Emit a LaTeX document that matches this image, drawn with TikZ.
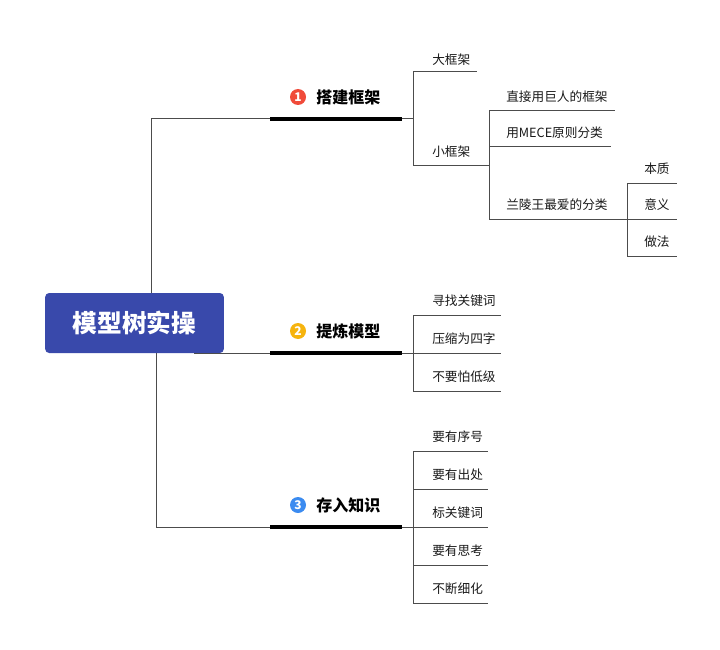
\documentclass[tikz,border=0pt]{standalone}
\usepackage{fontspec}
\setmainfont{Noto Sans CJK SC}
\definecolor{rootc}{HTML}{3949AB}
\definecolor{c1}{HTML}{F04B3A}\definecolor{c2}{HTML}{F6B40E}\definecolor{c3}{HTML}{3B8BF0}
\begin{document}
\begin{tikzpicture}[x=0.75pt,y=-0.75pt,
  ln/.style={draw=black!70,line width=0.75pt},
  thick bar/.style={draw=black,line width=3pt},
  leaf/.style={anchor=west,inner sep=0pt,font=\fontsize{9.5pt}{11pt}\selectfont,text=black!90},
  br/.style={anchor=west,inner sep=0pt,font=\fontsize{12pt}{14pt}\selectfont\bfseries},
  num/.style={circle,inner sep=0pt,minimum size=12pt,text=white,font=\fontsize{9pt}{10pt}\selectfont\bfseries}]
\useasboundingbox (0,0) rectangle (720,649);
% root
\node[fill=rootc,rounded corners=3pt,minimum width=134pt,minimum height=45pt,inner sep=0pt,
  text=white,font=\fontsize{18.5pt}{21pt}\selectfont\bfseries] (root) at (134.5,323) {模型树实操};
% branch coordinates
\coordinate (b1s) at (151,293); \coordinate (b1c) at (151,119); \coordinate (b1e) at (402,119);
\coordinate (b2s) at (194,353); \coordinate (b2e) at (402,353);
\coordinate (b3s) at (156,353); \coordinate (b3c) at (156,527); \coordinate (b3e) at (402,527);
\draw[ln] (b1s) -- (b1c) -- (b1e);
\draw[ln] (b2s) -- (b2e);
\draw[ln] (b3s) -- (b3c) -- (b3e);
\draw[thick bar] (270,119) -- (b1e);
\draw[thick bar] (270,353) -- (b2e);
\draw[thick bar] (270,527) -- (b3e);
\node[num,fill=c1] (n1) at (298,97) {1};
\node[num,fill=c2] (n2) at (298,331) {2};
\node[num,fill=c3] (n3) at (298,505) {3};
\node[br] (t1) at (316,97) {搭建框架};
\node[br] (t2) at (316,331) {提炼模型};
\node[br] (t3) at (316,505) {存入知识};
% branch 1 children
\draw[ln] (413,72) -- (413,165);
\draw[ln] (b1e) -- (413,119);
\node[leaf] (a1) at (432,60) {大框架};
\draw[ln] (413,72) -- (477,72);
\node[leaf] (a2) at (432,152) {小框架};
\draw[ln] (413,165) -- (489,165);
\draw[ln] (489,111) -- (489,219);
\node[leaf] (s1) at (506,97) {直接用巨人的框架};
\draw[ln] (489,111) -- (615,111);
\node[leaf] (s2) at (506,133) {用MECE原则分类};
\draw[ln] (489,147) -- (611,147);
\node[leaf] (s3) at (506,205) {兰陵王最爱的分类};
\draw[ln] (489,219) -- (677,219);
\draw[ln] (627,183) -- (627,256);
\node[leaf] (u1) at (644,169) {本质};
\draw[ln] (627,183) -- (677,183);
\node[leaf] (u2) at (644,205) {意义};
\node[leaf] (u3) at (644,242) {做法};
\draw[ln] (627,256) -- (677,256);
% branch 2 children
\draw[ln] (b2e) -- (413,353);
\draw[ln] (413,315) -- (413,391);
\foreach \y/\t in {301/寻找关键词,339/压缩为四字,377/不要怕低级}{
  \node[leaf] at (432,\y) {\t};
  \draw[ln] (413,\y+14) -- (501,\y+14);}
% branch 3 children
\draw[ln] (b3e) -- (413,527);
\draw[ln] (413,451) -- (413,603);
\foreach \y/\t in {437/要有序号,475/要有出处,513/标关键词,551/要有思考,589/不断细化}{
  \node[leaf] at (432,\y) {\t};
  \draw[ln] (413,\y+14) -- (488,\y+14);}
\end{tikzpicture}
\end{document}
